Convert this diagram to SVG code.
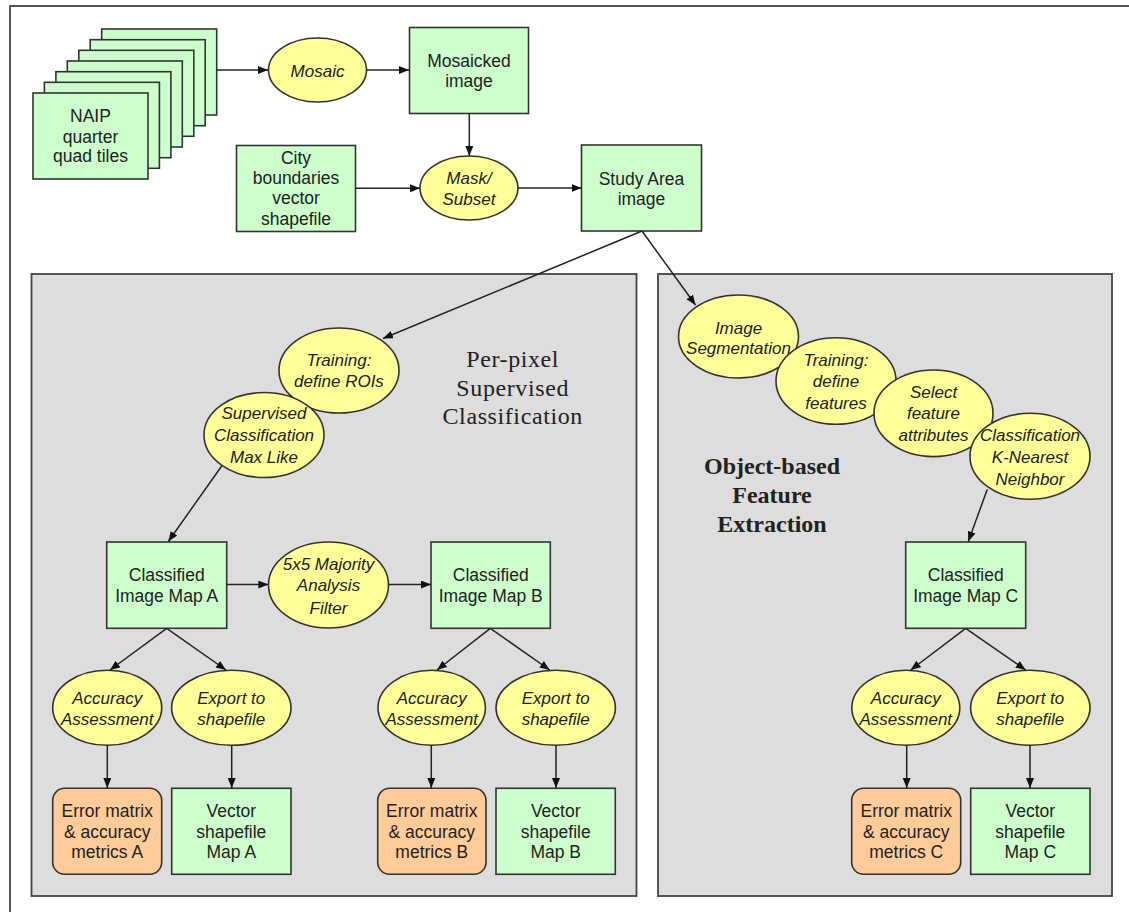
<svg xmlns="http://www.w3.org/2000/svg" width="1129" height="912" viewBox="0 0 1129 912">
<defs>
<marker id="arr" markerUnits="userSpaceOnUse" markerWidth="11" markerHeight="9" refX="10" refY="4" orient="auto">
<path d="M0,0 L10,4 L0,8 z" fill="#111"/>
</marker>
<style>
.box{fill:#CCFFCC;stroke:#333;stroke-width:1.6}
.err{fill:#FFCC99;stroke:#333;stroke-width:1.6}
.ell{fill:#FFFF99;stroke:#333;stroke-width:1.6}
.panel{fill:#DDDDDD;stroke:#444;stroke-width:1.8}
.t{font-family:"Liberation Sans",Arial,sans-serif;font-size:17.5px;fill:#222;text-anchor:middle}
.i{font-family:"Liberation Sans",Arial,sans-serif;font-size:17px;font-style:italic;fill:#222;text-anchor:middle}
.s{font-family:"Liberation Serif","Times New Roman",serif;font-size:24px;fill:#222;text-anchor:middle}
.sr{letter-spacing:0.6px}
.sb{font-weight:bold}
.c{fill:none;stroke:#222;stroke-width:1.5;marker-end:url(#arr)}
</style>
</defs>
<rect width="1129" height="912" fill="#fff"/>
<path d="M10,912 V6 H1129" fill="none" stroke="#555" stroke-width="2"/>

<g id="panel-perpixel">
<rect class="panel" x="31.5" y="274" width="605" height="622"/>
<text class="s sr"><tspan x="512.7" y="366.5">Per-pixel</tspan><tspan x="512.7" y="395.5">Supervised</tspan><tspan x="512.7" y="424">Classification</tspan></text>
</g>
<g id="panel-object">
<rect class="panel" x="658" y="274" width="454" height="622"/>
<text class="s sb"><tspan x="772" y="473.5">Object-based</tspan><tspan x="772" y="502.5">Feature</tspan><tspan x="772" y="531.5">Extraction</tspan></text>
</g>

<g id="naip-tiles">
<rect class="box" x="101.7" y="29" width="115" height="86"/>
<rect class="box" x="90.2" y="39.7" width="115" height="86"/>
<rect class="box" x="78.8" y="50.3" width="115" height="86"/>
<rect class="box" x="67.3" y="61" width="115" height="86"/>
<rect class="box" x="55.9" y="71.7" width="115" height="86"/>
<rect class="box" x="44.4" y="82.3" width="115" height="86"/>
<rect class="box" x="33" y="93" width="115" height="86"/>
<text class="t"><tspan x="90.5" y="122">NAIP</tspan><tspan x="90.5" y="142.5">quarter</tspan><tspan x="90.5" y="162">quad tiles</tspan></text>
</g>
<g id="mosaic">
<ellipse class="ell" cx="317.5" cy="70" rx="49" ry="32"/>
<text class="i" x="317.5" y="76.5">Mosaic</text>
</g>
<g id="mosaicked-image">
<rect class="box" x="409.5" y="27.5" width="119" height="86"/>
<text class="t"><tspan x="469" y="67">Mosaicked</tspan><tspan x="469" y="87">image</tspan></text>
</g>
<g id="city-boundaries">
<rect class="box" x="236.5" y="145.5" width="119" height="86"/>
<text class="t"><tspan x="296" y="163.7">City</tspan><tspan x="296" y="183.7">boundaries</tspan><tspan x="296" y="204.3">vector</tspan><tspan x="296" y="225">shapefile</tspan></text>
</g>
<g id="mask-subset">
<ellipse class="ell" cx="469" cy="188" rx="49" ry="32"/>
<text class="i"><tspan x="469" y="183.7">Mask/</tspan><tspan x="469" y="205">Subset</tspan></text>
</g>
<g id="study-area">
<rect class="box" x="581.5" y="145" width="120" height="86"/>
<text class="t"><tspan x="641.5" y="185">Study Area</tspan><tspan x="641.5" y="205.3">image</tspan></text>
</g>

<g id="training-rois">
<ellipse class="ell" cx="339" cy="370.5" rx="60" ry="42.5"/>
<text class="i"><tspan x="339" y="366">Training:</tspan><tspan x="339" y="387">define ROIs</tspan></text>
</g>
<g id="supervised-classification">
<ellipse class="ell" cx="264" cy="435" rx="60" ry="42.5"/>
<text class="i"><tspan x="264" y="419.3">Supervised</tspan><tspan x="264" y="441">Classification</tspan><tspan x="264" y="463">Max Like</tspan></text>
</g>
<g id="image-segmentation">
<ellipse class="ell" cx="738.5" cy="336.5" rx="60" ry="41.5"/>
<text class="i"><tspan x="738.5" y="334">Image</tspan><tspan x="738.5" y="354.3">Segmentation</tspan></text>
</g>
<g id="training-features">
<ellipse class="ell" cx="836" cy="381" rx="60" ry="43.3"/>
<text class="i"><tspan x="836" y="366">Training:</tspan><tspan x="836" y="387">define</tspan><tspan x="836" y="409.3">features</tspan></text>
</g>
<g id="select-attributes">
<ellipse class="ell" cx="933.5" cy="413.3" rx="59.5" ry="43.3"/>
<text class="i"><tspan x="933.5" y="397.7">Select</tspan><tspan x="933.5" y="419.3">feature</tspan><tspan x="933.5" y="441">attributes</tspan></text>
</g>
<g id="knn-classification">
<ellipse class="ell" cx="1030" cy="456.3" rx="60" ry="43"/>
<text class="i"><tspan x="1030" y="441">Classification</tspan><tspan x="1030" y="462.7">K-Nearest</tspan><tspan x="1030" y="485">Neighbor</tspan></text>
</g>

<g id="map-a">
<rect class="box" x="106.7" y="542" width="120" height="86.3"/>
<text class="t"><tspan x="166.7" y="581.3">Classified</tspan><tspan x="166.7" y="602">Image Map A</tspan></text>
</g>
<g id="majority-filter">
<ellipse class="ell" cx="328.5" cy="585" rx="60" ry="43"/>
<text class="i"><tspan x="328.5" y="570.3">5x5 Majority</tspan><tspan x="328.5" y="591.3">Analysis</tspan><tspan x="328.5" y="613.7">Filter</tspan></text>
</g>
<g id="map-b">
<rect class="box" x="431" y="542" width="119.3" height="86.3"/>
<text class="t"><tspan x="490.7" y="581.3">Classified</tspan><tspan x="490.7" y="602">Image Map B</tspan></text>
</g>
<g id="map-c">
<rect class="box" x="905.7" y="542" width="120" height="86.3"/>
<text class="t"><tspan x="965.7" y="581.3">Classified</tspan><tspan x="965.7" y="602">Image Map C</tspan></text>
</g>

<g id="accuracy-a">
<ellipse class="ell" cx="107.2" cy="707.8" rx="54.5" ry="37.5"/>
<text class="i"><tspan x="107.2" y="703.7">Accuracy</tspan><tspan x="107.2" y="724.7">Assessment</tspan></text>
</g>
<g id="export-a">
<ellipse class="ell" cx="231.3" cy="707.8" rx="59.7" ry="37.5"/>
<text class="i"><tspan x="231.3" y="703.7">Export to</tspan><tspan x="231.3" y="724.7">shapefile</tspan></text>
</g>
<g id="accuracy-b">
<ellipse class="ell" cx="431.7" cy="707.8" rx="53.7" ry="37.5"/>
<text class="i"><tspan x="431.7" y="703.7">Accuracy</tspan><tspan x="431.7" y="724.7">Assessment</tspan></text>
</g>
<g id="export-b">
<ellipse class="ell" cx="555.7" cy="707.8" rx="59.7" ry="37.5"/>
<text class="i"><tspan x="555.7" y="703.7">Export to</tspan><tspan x="555.7" y="724.7">shapefile</tspan></text>
</g>
<g id="accuracy-c">
<ellipse class="ell" cx="905.8" cy="707.8" rx="54" ry="37.5"/>
<text class="i"><tspan x="905.8" y="703.7">Accuracy</tspan><tspan x="905.8" y="724.7">Assessment</tspan></text>
</g>
<g id="export-c">
<ellipse class="ell" cx="1030.3" cy="707.8" rx="59.7" ry="37.5"/>
<text class="i"><tspan x="1030.3" y="703.7">Export to</tspan><tspan x="1030.3" y="724.7">shapefile</tspan></text>
</g>

<g id="error-a">
<rect class="err" x="52.7" y="788.3" width="109" height="86" rx="12"/>
<text class="t"><tspan x="107.2" y="817">Error matrix</tspan><tspan x="107.2" y="837.7">&amp; accuracy</tspan><tspan x="107.2" y="857.7">metrics A</tspan></text>
</g>
<g id="vector-a">
<rect class="box" x="171.7" y="788.3" width="119.3" height="86"/>
<text class="t"><tspan x="231.3" y="817">Vector</tspan><tspan x="231.3" y="837.7">shapefile</tspan><tspan x="231.3" y="857.7">Map A</tspan></text>
</g>
<g id="error-b">
<rect class="err" x="377.7" y="788.3" width="108.3" height="86" rx="12"/>
<text class="t"><tspan x="431.8" y="817">Error matrix</tspan><tspan x="431.8" y="837.7">&amp; accuracy</tspan><tspan x="431.8" y="857.7">metrics B</tspan></text>
</g>
<g id="vector-b">
<rect class="box" x="496" y="788.3" width="119.3" height="86"/>
<text class="t"><tspan x="555.7" y="817">Vector</tspan><tspan x="555.7" y="837.7">shapefile</tspan><tspan x="555.7" y="857.7">Map B</tspan></text>
</g>
<g id="error-c">
<rect class="err" x="851.7" y="788.3" width="109" height="86" rx="12"/>
<text class="t"><tspan x="906.2" y="817">Error matrix</tspan><tspan x="906.2" y="837.7">&amp; accuracy</tspan><tspan x="906.2" y="857.7">metrics C</tspan></text>
</g>
<g id="vector-c">
<rect class="box" x="970.7" y="788.3" width="119.3" height="86"/>
<text class="t"><tspan x="1030.3" y="817">Vector</tspan><tspan x="1030.3" y="837.7">shapefile</tspan><tspan x="1030.3" y="857.7">Map C</tspan></text>
</g>

<g id="connectors">
<path class="c" d="M217,70 H268"/>
<path class="c" d="M367,70 H409"/>
<path class="c" d="M469.3,113.5 V156"/>
<path class="c" d="M356,188.3 H420"/>
<path class="c" d="M518,188 H581.5"/>
<path class="c" d="M642,231 L383,338.5"/>
<path class="c" d="M642,231 L695.5,305"/>
<path class="c" d="M221.7,466 L168.3,541.5"/>
<path class="c" d="M226.7,584.5 H268.3"/>
<path class="c" d="M388.7,584.5 H431"/>
<path class="c" d="M166.7,628.3 L110,670"/>
<path class="c" d="M166.7,628.3 L226,670"/>
<path class="c" d="M107.3,745.3 V788"/>
<path class="c" d="M231.7,745.3 V788"/>
<path class="c" d="M490.3,628.3 L437,670"/>
<path class="c" d="M490.3,628.3 L549.7,670"/>
<path class="c" d="M431.3,745.3 V788"/>
<path class="c" d="M556,745.3 V788"/>
<path class="c" d="M987.3,489.3 L968.3,541.5"/>
<path class="c" d="M965.7,628.3 L910.7,670"/>
<path class="c" d="M965.7,628.3 L1025.7,670"/>
<path class="c" d="M906.7,745.3 V788"/>
<path class="c" d="M1030,745.3 V788"/>
</g>
</svg>
